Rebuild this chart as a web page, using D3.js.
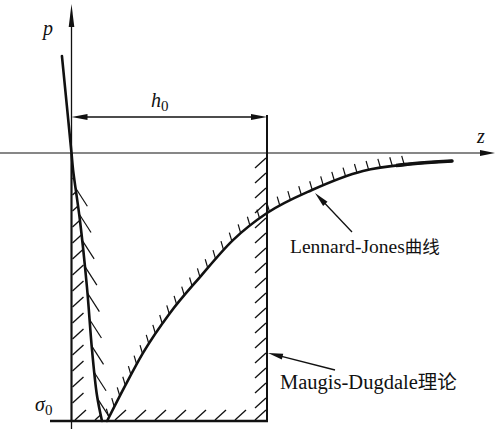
<!DOCTYPE html>
<html>
<head>
<meta charset="utf-8">
<script src="https://cdn.jsdelivr.net/npm/d3@7/dist/d3.min.js"></script>
<style>
  html, body { margin: 0; padding: 0; background: #fff; }
  svg { display: block; }
</style>
</head>
<body>
<script>
// Lennard-Jones traction curve p(z), in units of h0 (z) and sigma0 (p)
const ljZ = [-0.049, 0, 0.008, 0.043, 0.079, 0.105, 0.130, 0.156, 0.182, 0.274, 0.366, 0.504, 0.657, 0.826, 1.000, 1.230, 1.491, 1.731, 1.946];
const ljP = [0.362, 0, -0.063, -0.250, -0.500, -0.735, -0.903, -1.000, -1.000, -0.869, -0.746, -0.597, -0.463, -0.325, -0.224, -0.138, -0.067, -0.041, -0.030];

// Maugis-Dugdale step: constant stress sigma0 over the range 0..h0
const dugdaleZ = [0, 1];
const dugdaleP = [0, -1];

const axisNames = ["p", "z"];
const curveNames = ["Lennard-Jones曲线", "Maugis-Dugdale理论"];
const dimNames = [["h", "0"], ["σ", "0"]];

const W = 496, H = 429;
const SERIF = "'Liberation Serif', 'Times New Roman', 'DejaVu Serif', serif";
const CJK = "'Noto Sans CJK SC', 'Noto Sans CJK JP', sans-serif";
const svg = d3.select("body").append("svg").attr("width", W).attr("height", H);

const x = d3.scaleLinear().domain([dugdaleZ[0], dugdaleZ[1]]).range([71.5, 267]);
const y = d3.scaleLinear().domain([dugdaleP[0], dugdaleP[1]]).range([153, 421]);

const ink = "#111";

// split curve into the repulsive (left) and attractive (right) branches at the minimum
const pts = ljZ.map((z, i) => [x(z), y(ljP[i])]);
const iMin = ljP.indexOf(d3.min(ljP));
const leftPts = pts.slice(0, iMin + 1);
const rightPts = pts.slice(iMin + 1);
const leftD = d3.line().curve(d3.curveCatmullRom.alpha(0.5))(leftPts);
const rightD = d3.line().curve(d3.curveMonotoneX)(rightPts);

// region enclosed by the curve (the potential well), used for clipping hatches
const last = rightPts[rightPts.length - 1];
const wellD = leftD + "L" + rightD.slice(1) + "L" + last[0] + ",0L" + leftPts[0][0] + ",0Z";

const defs = svg.append("defs");
defs.append("clipPath").attr("id", "well").append("path").attr("d", wellD);
defs.append("clipPath").attr("id", "outside").append("path")
  .attr("d", "M0,0H" + W + "V" + H + "H0Z" + wellD)
  .attr("clip-rule", "evenodd");
defs.append("clipPath").attr("id", "tail").append("rect")
  .attr("x", x(1.66)).attr("y", 0).attr("width", W).attr("height", H);

function arrowHead(g, tip, tail, len, hw) {
  const dx = tip[0] - tail[0], dy = tip[1] - tail[1];
  const L = Math.hypot(dx, dy), ux = dx / L, uy = dy / L;
  const bx = tip[0] - ux * len, by = tip[1] - uy * len;
  g.append("path")
    .attr("d", `M${tip[0]},${tip[1]}L${bx - uy * hw},${by + ux * hw}L${bx + uy * hw},${by - ux * hw}Z`)
    .attr("fill", ink);
}

// ---- axes ----
const axes = svg.append("g").attr("stroke", ink).attr("fill", "none");
axes.append("line").attr("x1", x(0)).attr("y1", 20).attr("x2", x(0)).attr("y2", H).attr("stroke-width", 1.3);
arrowHead(svg, [x(0), 4], [x(0), 40], 23, 2.8);
axes.append("line").attr("x1", 0).attr("y1", y(0)).attr("x2", 482).attr("y2", y(0)).attr("stroke-width", 1.2);
arrowHead(svg, [495, y(0)], [400, y(0)], 15, 3);

// ---- Dugdale rectangle ----
const rect = svg.append("g").attr("stroke", ink).attr("fill", "none");
rect.append("line").attr("x1", x(0)).attr("y1", y(0)).attr("x2", x(0)).attr("y2", y(-1)).attr("stroke-width", 2);
rect.append("line").attr("x1", x(1)).attr("y1", 115).attr("x2", x(1)).attr("y2", y(-1)).attr("stroke-width", 2);
rect.append("line").attr("x1", 50).attr("y1", y(-1)).attr("x2", x(1) + 1).attr("y2", y(-1)).attr("stroke-width", 2.7);

// hatching inside the rectangle, outside the well
const hatch = svg.append("g").attr("stroke", ink).attr("stroke-width", 1.3)
  .attr("clip-path", "url(#outside)");
for (let yy = 163; yy <= 416; yy += 16) {
  hatch.append("line").attr("x1", x(0) + 1).attr("y1", yy).attr("x2", x(0) + 12).attr("y2", yy - 10);
}
for (let xx = 75; xx <= 255; xx += 20) {
  hatch.append("line").attr("x1", xx).attr("y1", y(-1) - 1).attr("x2", xx + 11).attr("y2", y(-1) - 11);
}
// right edge hatching runs the full height of the edge
const hatchR = svg.append("g").attr("stroke", ink).attr("stroke-width", 1.3);
for (let yy = 158; yy <= 412; yy += 15) {
  hatchR.append("line").attr("x1", x(1) - 12).attr("y1", yy + 10).attr("x2", x(1) - 1).attr("y2", yy);
}

// ---- Lennard-Jones curve ----
const curve = svg.append("g").attr("stroke", ink).attr("fill", "none").attr("stroke-linecap", "round");
const leftPath = curve.append("path").attr("d", leftD).attr("stroke-width", 2.6);
const rightPath = curve.append("path").attr("d", rightD).attr("stroke-width", 2.6);
// heavier stroke on the far tail of the curve
curve.append("path").attr("d", rightD).attr("stroke-width", 3.6).attr("clip-path", "url(#tail)");

// tick hatching on the well side of the curve
const ticks = svg.append("g").attr("stroke", ink).attr("stroke-width", 1.2)
  .attr("clip-path", "url(#well)");
const lNode = leftPath.node(), lLen = lNode.getTotalLength();
for (let s = 0; s <= lLen; s += 26.5) {
  const p = lNode.getPointAtLength(s);
  if (p.y < 165 || p.y > 410) continue;
  ticks.append("line").attr("x1", p.x).attr("y1", p.y)
    .attr("x2", p.x + 0.54 * 22).attr("y2", p.y + 0.84 * 22);
}
const rNode = rightPath.node(), rLen = rNode.getTotalLength();
for (let s = 4; s <= rLen; s += 12) {
  const p = rNode.getPointAtLength(s);
  if (p.x > 415) break;
  ticks.append("line").attr("x1", p.x).attr("y1", p.y)
    .attr("x2", p.x - 0.28 * 9).attr("y2", p.y - 0.96 * 9);
}

// ---- h0 dimension ----
const dimY = 117;
svg.append("line").attr("x1", x(0) + 10).attr("y1", dimY).attr("x2", x(1) - 10).attr("y2", dimY)
  .attr("stroke", ink).attr("stroke-width", 1.5);
arrowHead(svg, [x(0), dimY], [x(1), dimY], 16, 3);
arrowHead(svg, [x(1), dimY], [x(0), dimY], 16, 3);

// ---- leaders ----
const leaders = [
  { tip: [315, 193], tail: [352, 232] },
  { tip: [268, 353], tail: [335, 370] }
];
leaders.forEach(d => {
  const dx = d.tip[0] - d.tail[0], dy = d.tip[1] - d.tail[1], L = Math.hypot(dx, dy);
  svg.append("line").attr("x1", d.tail[0]).attr("y1", d.tail[1])
    .attr("x2", d.tip[0] - dx / L * 8).attr("y2", d.tip[1] - dy / L * 8)
    .attr("stroke", ink).attr("stroke-width", 1.3);
  arrowHead(svg, d.tip, d.tail, 15, 3);
});

// ---- labels ----
function label(xx, yy) {
  return svg.append("text").attr("x", xx).attr("y", yy)
    .attr("font-family", SERIF).attr("fill", ink);
}
label(43, 35).attr("font-size", 20).attr("font-style", "italic").text(axisNames[0]);
label(477, 143).attr("font-size", 20).attr("font-style", "italic").text(axisNames[1]);

function subLabel(xx, yy, parts) {
  const t = label(xx, yy);
  t.append("tspan").attr("font-size", 20).attr("font-style", "italic").text(parts[0]);
  t.append("tspan").attr("font-size", 15).attr("dy", 4).text(parts[1]);
}
subLabel(151, 107, dimNames[0]);
subLabel(35, 411, dimNames[1]);

function mixedLabel(xx, yy, str, latinSize, cjkSize) {
  const t = label(xx, yy);
  const m = str.match(/^([\x00-\x7f]+)(.*)$/);
  t.append("tspan").attr("font-size", latinSize).text(m[1]);
  t.append("tspan").attr("font-size", cjkSize).attr("font-family", CJK).text(m[2]);
}
mixedLabel(290, 253, curveNames[0], 19.5, 17.5);
mixedLabel(280, 389, curveNames[1], 20.5, 19.5);
</script>
</body>
</html>
